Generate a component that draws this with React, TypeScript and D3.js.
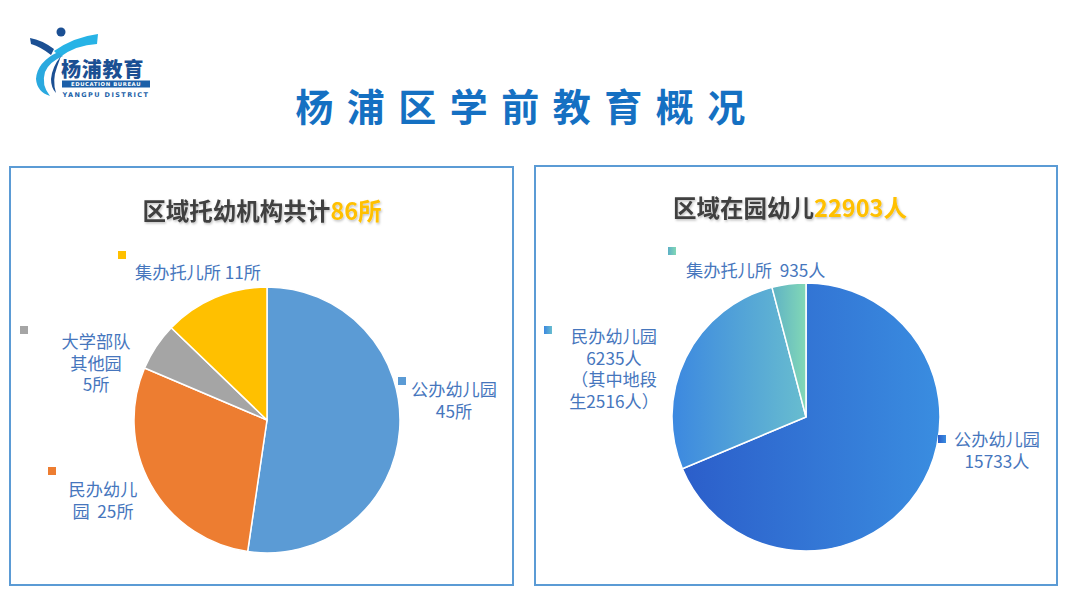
import React from 'react';
import * as d3 from 'd3';

const mainTitle = '杨浦区学前教育概况';

const leftTitle = '区域托幼机构共计';
const leftTotal = '86所';
const leftCategories = ['公办幼儿园', '民办幼儿园', '大学部队其他园', '集办托儿所'];
const leftValues = [45, 25, 5, 11];
const leftColors = ['#5B9BD5', '#ED7D31', '#A5A5A5', '#FFC000'];
const leftLabelLines = [
  ['公办幼儿园', '45所'],
  ['民办幼儿', '园\u00A0\u00A025所'],
  ['大学部队', '其他园', '5所'],
  ['集办托儿所 11所'],
];

const rightTitle = '区域在园幼儿';
const rightTotal = '22903人';
const rightCategories = ['公办幼儿园', '民办幼儿园', '集办托儿所'];
const rightValues = [15733, 6235, 935];
const rightGradients = [
  ['#2B5CC9', '#3A8DE0'],
  ['#3C88E0', '#68BDCF'],
  ['#5DB0C6', '#82D8B6'],
];
const rightLabelLines = [
  ['公办幼儿园', '15733人'],
  ['民办幼儿园', '6235人', '（其中地段', '生2516人）'],
  ['集办托儿所\u00A0\u00A0935人'],
];

const labelColor = '#4676BD';
const labelFont = '"Noto Sans CJK SC", "Noto Sans", sans-serif';

type LabelPos = { mx: number; my: number; tx: number; ty: number; anchor: string };

const leftLabelPos: LabelPos[] = [
  { mx: 402, my: 381, tx: 454, ty: 396, anchor: 'middle' },
  { mx: 52, my: 471, tx: 103, ty: 496, anchor: 'middle' },
  { mx: 24, my: 330, tx: 96, ty: 348, anchor: 'middle' },
  { mx: 122, my: 255, tx: 135, ty: 279, anchor: 'start' },
];
const rightLabelPos: LabelPos[] = [
  { mx: 942, my: 439, tx: 997, ty: 446, anchor: 'middle' },
  { mx: 548, my: 330, tx: 614, ty: 343, anchor: 'middle' },
  { mx: 672, my: 251, tx: 686, ty: 277, anchor: 'start' },
];

function PieChart({ cx, cy, r, values, fills, labels, pos, markerFills }: any) {
  const pie = d3.pie<number>().sort(null).value((d) => d);
  const arcs = pie(values);
  const arc = d3.arc<d3.PieArcDatum<number>>().innerRadius(0).outerRadius(r);
  return (
    <g>
      <g transform={`translate(${cx},${cy})`}>
        {arcs.map((a, i) => (
          <path key={i} d={arc(a) || ''} fill={fills[i]} stroke="#ffffff" strokeWidth={1.5} />
        ))}
      </g>
      {pos.map((p: LabelPos, i: number) => (
        <g key={i}>
          <rect x={p.mx - 4} y={p.my - 4} width={8} height={8} fill={markerFills[i]} />
          {labels[i].map((line: string, j: number) => (
            <text
              key={j}
              x={p.tx}
              y={p.ty + j * 21.7}
              textAnchor={p.anchor}
              fill={labelColor}
              fontFamily={labelFont}
              fontSize={17.2}
            >
              {line}
            </text>
          ))}
        </g>
      ))}
    </g>
  );
}

function Logo() {
  return (
    <g>
      <circle cx={61} cy={32} r={4.5} fill="#1B4F93" />
      <path d="M30,38 Q42,40 54,49 L51,55 Q41,47 31,44 Z" fill="#1B4F93" />
      <path d="M54,51 Q74,37 98,34 L97,44 Q76,45 60,57 Z" fill="#27B3E6" />
      <path d="M58,52 Q37,62 36,79 Q37,92 50,96 Q41,85 45,72 Q49,62 63,56 Z" fill="#2AA9DF" />
      <path d="M61,56 Q52,67 51,79 Q51,88 56,93 Q52,80 57,67 Z" fill="#1B4F93" />
      <text x={61} y={76.5} fontFamily='"Noto Sans CJK SC", sans-serif' fontWeight={900} fontSize={20} fill="#1B4F93" letterSpacing={0.8}>
        杨浦教育
      </text>
      <rect x={62} y={80.5} width={88} height={7} fill="#1B5FA8" />
      <text x={106} y={86.3} textAnchor="middle" fontFamily='"DejaVu Sans", sans-serif' fontWeight={700} fontSize={5.3} fill="#ffffff" letterSpacing={0.6}>
        EDUCATION BUREAU
      </text>
      <text x={106} y={97} textAnchor="middle" fontFamily='"DejaVu Sans", sans-serif' fontWeight={700} fontSize={6.5} fill="#1B5FA8" letterSpacing={1.4}>
        YANGPU DISTRICT
      </text>
    </g>
  );
}

export default function App() {
  const W = 1080;
  const H = 606;
  const titleFont = '"Noto Sans CJK SC", sans-serif';
  const rr = 134;
  return (
    <svg width={W} height={H} style={{ position: 'absolute', left: 0, top: 0, background: '#fff' }}>
      <defs>
        <linearGradient id="rg0" gradientUnits="userSpaceOnUse" x1={-rr} y1={0} x2={rr} y2={0}>
          <stop offset="0%" stopColor={rightGradients[0][0]} />
          <stop offset="100%" stopColor={rightGradients[0][1]} />
        </linearGradient>
        <linearGradient id="rg1" gradientUnits="userSpaceOnUse" x1={-rr} y1={0} x2={0} y2={0}>
          <stop offset="0%" stopColor={rightGradients[1][0]} />
          <stop offset="100%" stopColor={rightGradients[1][1]} />
        </linearGradient>
        <linearGradient id="rg2" gradientUnits="userSpaceOnUse" x1={-36} y1={0} x2={0} y2={0}>
          <stop offset="0%" stopColor={rightGradients[2][0]} />
          <stop offset="100%" stopColor={rightGradients[2][1]} />
        </linearGradient>
        {rightGradients.map((g, i) => (
          <linearGradient key={i} id={`mk${i}`} x1="0" x2="1" y1="0" y2="0">
            <stop offset="0%" stopColor={g[0]} />
            <stop offset="100%" stopColor={g[1]} />
          </linearGradient>
        ))}
        <filter id="shadow" x="-10%" y="-30%" width="120%" height="160%">
          <feDropShadow dx={1} dy={1.5} stdDeviation={1} floodColor="#000" floodOpacity={0.25} />
        </filter>
      </defs>

      <Logo />

      <text
        x={527}
        y={121}
        textAnchor="middle"
        fontFamily={titleFont}
        fontWeight={700}
        fontSize={38}
        fill="#1570C2"
        letterSpacing={13.5}
      >
        {mainTitle}
      </text>

      <rect x={10} y={167} width={503} height={418} fill="none" stroke="#5B9BD5" strokeWidth={2} />
      <rect x={535} y={166} width={522} height={419} fill="none" stroke="#5B9BD5" strokeWidth={2} />

      <text x={262} y={220} textAnchor="middle" fontFamily={titleFont} fontWeight={700} fontSize={23.5} filter="url(#shadow)">
        <tspan fill="#404040">{leftTitle}</tspan>
        <tspan fill="#FFC000">{leftTotal}</tspan>
      </text>
      <text x={790} y={217} textAnchor="middle" fontFamily={titleFont} fontWeight={700} fontSize={23.5} filter="url(#shadow)">
        <tspan fill="#404040">{rightTitle}</tspan>
        <tspan fill="#FFC000">{rightTotal}</tspan>
      </text>

      <PieChart
        cx={267}
        cy={420}
        r={133}
        values={leftValues}
        fills={leftColors}
        markerFills={leftColors}
        labels={leftLabelLines}
        pos={leftLabelPos}
        names={leftCategories}
      />
      <PieChart
        cx={806}
        cy={417}
        r={rr}
        values={rightValues}
        fills={['url(#rg0)', 'url(#rg1)', 'url(#rg2)']}
        markerFills={['url(#mk0)', 'url(#mk1)', 'url(#mk2)']}
        labels={rightLabelLines}
        pos={rightLabelPos}
        names={rightCategories}
      />
    </svg>
  );
}
